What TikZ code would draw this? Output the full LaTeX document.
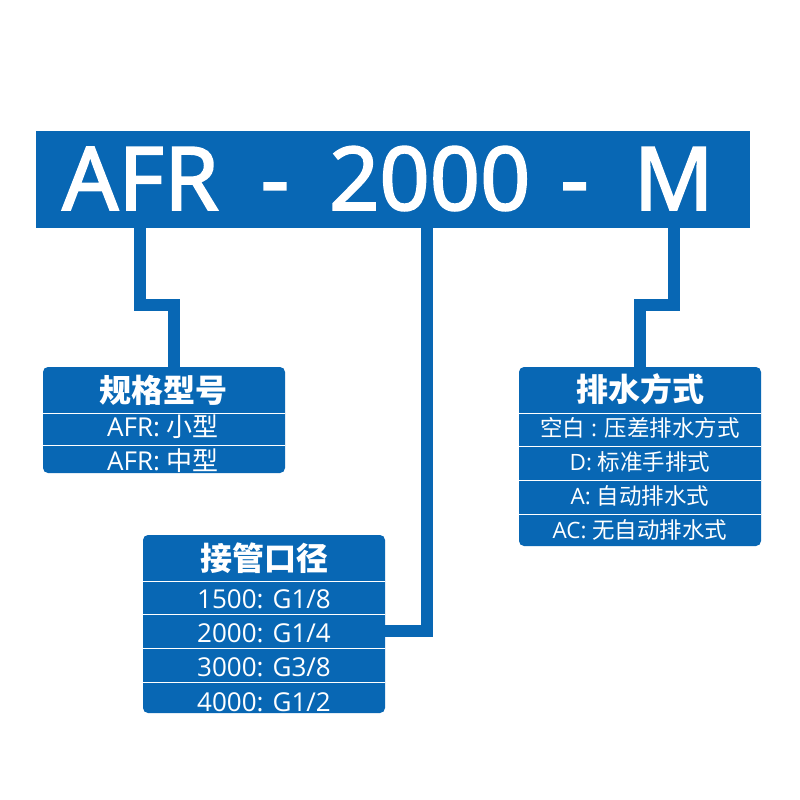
\documentclass[tikz,border=0pt]{standalone}
\usepackage{fontspec}
\setmainfont{Open Sans}
\newfontfamily\cjk{Noto Sans CJK SC}
\newfontfamily\bannerfont[FakeBold=2]{Noto Sans}
\definecolor{bblue}{HTML}{0867B4}
\begin{document}
\begin{tikzpicture}[x=1pt,y=-1pt,
  banner/.style={fill=bblue,inner sep=0pt,minimum width=714pt,minimum height=97pt},
  infobox/.style={fill=bblue,rounded corners=5pt,inner sep=0pt,minimum width=242pt},
  conn/.style={draw=bblue,line width=12pt,line join=miter,line cap=butt},
  sepline/.style={draw=white,line width=1pt},
  head/.style={text=white,font=\cjk\fontsize{32}{32}\selectfont\bfseries,inner sep=0pt},
  rowtxt/.style={text=white,font=\fontsize{26}{26}\selectfont,inner sep=0pt,anchor=base},
  rowtxts/.style={text=white,font=\fontsize{22.5}{22.5}\selectfont,inner sep=0pt,anchor=base}]
\useasboundingbox (0,0) rectangle (800,800);
\fill[white] (0,0) rectangle (800,800);
% banner
\node[banner] (ban) at (393,179) {};
\node[text=white,inner sep=0pt,anchor=base west,font=\bannerfont\fontsize{88}{88}\selectfont] (title) at (62,210)
  {AFR\hspace{42pt}-\hspace{40pt}2000\hspace{30pt}-\hspace{45pt}M};
% boxes
\node[infobox,minimum height=106pt] (b1) at (164,420) {};
\node[infobox,minimum height=178pt] (b2) at (264,624) {};
\node[infobox,minimum height=179pt] (b3) at (640,456.5) {};
% separators
\draw[sepline] (b1.west |- 0,413) -- (b1.east |- 0,413);
\draw[sepline] (b1.west |- 0,445) -- (b1.east |- 0,445);
\draw[sepline] (b2.west |- 0,581) -- (b2.east |- 0,581);
\draw[sepline] (b2.west |- 0,614.5) -- (b2.east |- 0,614.5);
\draw[sepline] (b2.west |- 0,648.5) -- (b2.east |- 0,648.5);
\draw[sepline] (b2.west |- 0,682.5) -- (b2.east |- 0,682.5);
\draw[sepline] (b3.west |- 0,413) -- (b3.east |- 0,413);
\draw[sepline] (b3.west |- 0,446.7) -- (b3.east |- 0,446.7);
\draw[sepline] (b3.west |- 0,480.7) -- (b3.east |- 0,480.7);
\draw[sepline] (b3.west |- 0,514.7) -- (b3.east |- 0,514.7);
% texts box 1
\node[head] (h1) at (163,390) {规格型号};
\node[rowtxt] (r11) at (163,436.5) {AFR: {\cjk 小型}};
\node[rowtxt] (r12) at (163,470) {AFR: {\cjk 中型}};
% texts box 2
\node[head] (h2) at (264,558) {接管口径};
\node[rowtxt] (r21) at (264,608) {1500: G1/8};
\node[rowtxt] (r22) at (264,642) {2000: G1/4};
\node[rowtxt] (r23) at (264,676.5) {3000: G3/8};
\node[rowtxt] (r24) at (264,711) {4000: G1/2};
% texts box 3
\node[head] (h3) at (640,389) {排水方式};
\node[rowtxts] (r31) at (640,436) {{\cjk 空白} : {\cjk 压差排水方式}};
\node[rowtxts] (r32) at (640,470.5) {D: {\cjk 标准手排式}};
\node[rowtxts] (r33) at (640,504.5) {A: {\cjk 自动排水式}};
\node[rowtxts] (r34) at (640,538) {AC: {\cjk 无自动排水式}};
% connectors
\draw[conn] (ban.south -| 140,0) -- (140,305) -- (174,305) -- (b1.north -| 174,0);
\draw[conn] (ban.south -| 427,0) -- (427,631) -- (b2.east |- 0,631);
\draw[conn] (ban.south -| 674,0) -- (674,305) -- (640,305) -- (b3.north -| 640,0);
\end{tikzpicture}
\end{document}
